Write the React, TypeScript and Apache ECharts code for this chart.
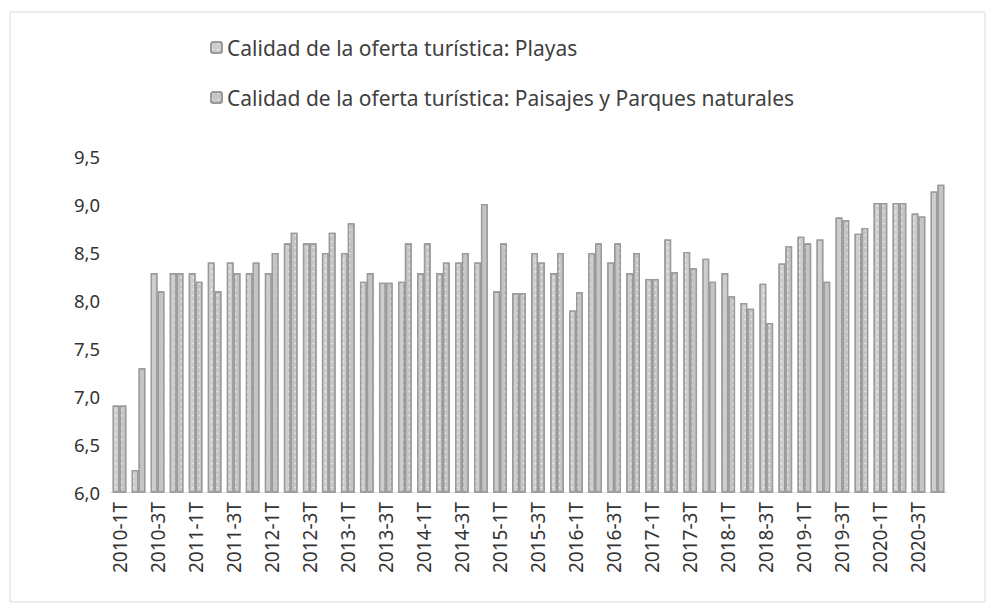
import React, { useEffect, useRef } from "react";
import * as echarts from "echarts";

const years = [2010, 2011, 2012, 2013, 2014, 2015, 2016, 2017, 2018, 2019, 2020];
const quarters = ["1T", "2T", "3T", "4T"];
const categories: string[] = [];
years.forEach((y) => quarters.forEach((q) => categories.push(`${y}-${q}`)));

const playas = [
  6.9, 6.23, 8.28, 8.28, 8.28, 8.39, 8.39, 8.28, 8.28, 8.59, 8.59,
  8.49, 8.49, 8.19, 8.18, 8.19, 8.28, 8.28, 8.39, 8.39, 8.09, 8.07,
  8.49, 8.28, 7.89, 8.49, 8.39, 8.28, 8.22, 8.63, 8.5, 8.43, 8.28,
  7.97, 8.17, 8.38, 8.66, 8.63, 8.86, 8.69, 9.01, 9.01, 8.9, 9.13,
];
const paisajes = [
  6.9, 7.29, 8.09, 8.28, 8.19, 8.09, 8.28, 8.39, 8.49, 8.7, 8.59,
  8.7, 8.8, 8.28, 8.18, 8.59, 8.59, 8.39, 8.49, 9.0, 8.59, 8.07,
  8.39, 8.49, 8.08, 8.59, 8.59, 8.49, 8.22, 8.29, 8.33, 8.19, 8.04,
  7.91, 7.76, 8.56, 8.59, 8.19, 8.83, 8.75, 9.01, 9.01, 8.87, 9.2,
];
const seriesNames = [
  "Calidad de la oferta turística: Playas",
  "Calidad de la oferta turística: Paisajes y Parques naturales",
];

export default function App() {
  const ref = useRef<HTMLDivElement>(null);
  useEffect(() => {
    if (!ref.current) return;
    const chart = echarts.init(ref.current, undefined, { renderer: "svg" });
    const font = "Noto Sans";
    const mk = (name: string, data: number[], color: string) => ({
      name,
      type: "bar",
      data,
      barGap: "0%",
      barCategoryGap: "28%",
      itemStyle: {
        color,
        borderColor: "#9a9a9a",
        borderWidth: 1.3,
        decal: {
          symbol: "circle",
          symbolSize: 0.6,
          dashArrayX: 3,
          dashArrayY: 3,
          color: "rgba(255,255,255,0.6)",
        },
      },
    });
    chart.setOption({
      animation: false,
      backgroundColor: "#ffffff",
      textStyle: { fontFamily: font },
      graphic: [
        {
          type: "rect",
          shape: { x: 10, y: 12, width: 975, height: 590 },
          style: { fill: "none", stroke: "#dcdcdc", lineWidth: 1 },
          silent: true,
        },
      ],
      legend: {
        orient: "vertical",
        left: 205,
        top: 32,
        itemGap: 29,
        itemWidth: 11,
        itemHeight: 11,
        textStyle: { fontFamily: font, fontSize: 21, color: "#404040" },
        data: seriesNames,
      },
      grid: { left: 110, right: 45, top: 156, bottom: 117, containLabel: false },
      xAxis: {
        type: "category",
        data: categories,
        axisTick: { show: false },
        axisLine: { show: true, lineStyle: { color: "#e0e0e0" } },
        axisLabel: {
          interval: 1,
          rotate: 90,
          fontFamily: font,
          fontSize: 19,
          color: "#333333",
          margin: 10,
        },
      },
      yAxis: {
        type: "value",
        min: 6,
        max: 9.5,
        interval: 0.5,
        splitLine: { show: false },
        axisLine: { show: false },
        axisTick: { show: false },
        axisLabel: {
          fontFamily: font,
          fontSize: 18.5,
          color: "#333333",
          margin: 10,
          formatter: (v: number) => v.toFixed(1).replace(".", ","),
        },
      },
      series: [mk(seriesNames[0], playas, "#cdcdcd"), mk(seriesNames[1], paisajes, "#c4c4c4")],
    });
    return () => chart.dispose();
  }, []);
  return (
    <div
      ref={ref}
      style={{ position: "fixed", left: 0, top: 0, width: 992, height: 609 }}
    />
  );
}
